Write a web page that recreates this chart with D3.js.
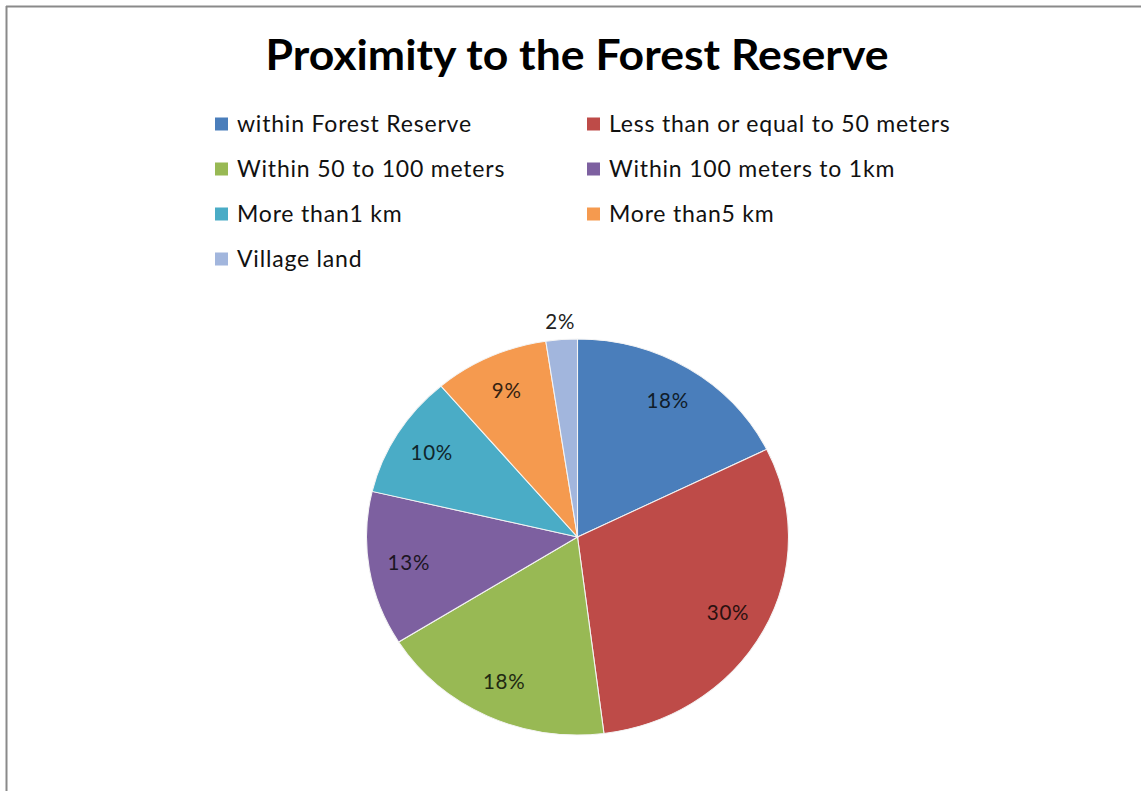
<!DOCTYPE html>
<html>
<head>
<meta charset="utf-8">
<script src="https://cdn.jsdelivr.net/npm/d3@7"></script>
<style>
  html, body { margin: 0; padding: 0; background: #fff; }
  svg { display: block; }
</style>
</head>
<body>
<script>
const categories = [
  "within Forest Reserve",
  "Less than or equal to 50 meters",
  "Within 50 to 100 meters",
  "Within 100 meters to 1km",
  "More than1 km",
  "More than5 km",
  "Village land"
];
const values = [17.7, 30.3, 18.1, 12.6, 10.1, 8.8, 2.4];
const valueLabels = ["18%", "30%", "18%", "13%", "10%", "9%", "2%"];
const colors = ["#4A7EBB", "#BE4B48", "#98B954", "#7D60A0", "#4AACC6", "#F59A4F", "#A2B6DD"];
const titleText = "Proximity to the Forest Reserve";

const W = 1141, H = 791;
const svg = d3.select("body").append("svg").attr("width", W).attr("height", H);

// frame (top and left edges)
svg.append("line").attr("x1", 6).attr("y1", 6.5).attr("x2", W).attr("y2", 6.5)
  .attr("stroke", "#8a8a8a").attr("stroke-width", 2);
svg.append("line").attr("x1", 6.5).attr("y1", 6).attr("x2", 6.5).attr("y2", H)
  .attr("stroke", "#8a8a8a").attr("stroke-width", 2);

// title
svg.append("text")
  .attr("x", 577).attr("y", 70)
  .attr("text-anchor", "middle")
  .attr("font-family", "Lato, 'Open Sans', sans-serif")
  .attr("font-weight", "bold")
  .attr("font-size", 42)
  .attr("fill", "#000")
  .attr("textLength", 623)
  .attr("lengthAdjust", "spacingAndGlyphs")
  .text(titleText);

// legend
const legendX = [215, 587];
const legendY0 = 124, legendDy = 45;
const legend = svg.append("g");
categories.forEach((c, i) => {
  const col = i % 2, row = Math.floor(i / 2);
  const x = legendX[col], y = legendY0 + row * legendDy;
  legend.append("rect").attr("x", x).attr("y", y - 6.5).attr("width", 13).attr("height", 13)
    .attr("fill", colors[i]);
  legend.append("text").attr("x", x + 22).attr("y", y).attr("dy", "0.35em")
    .attr("font-family", "Lato, 'Open Sans', sans-serif")
    .attr("font-size", 23)
    .attr("letter-spacing", 0.8)
    .attr("fill", "#111")
    .text(c);
});

// pie
const cx = 577.5, cy = 537, ry = 198, rx = 211;
const sx = rx / ry;
const pie = d3.pie().sort(null).value(d => d)(values);
const arc = d3.arc().innerRadius(0).outerRadius(ry);
const g = svg.append("g").attr("transform", `translate(${cx},${cy}) scale(${sx},1)`);
g.selectAll("path").data(pie).enter().append("path")
  .attr("d", arc)
  .attr("fill", (d, i) => colors[i])
  .attr("stroke", "#f4f4f4")
  .attr("stroke-width", 1);

// labels
const inArc = d3.arc().innerRadius(ry * 0.81).outerRadius(ry * 0.81);
const outArc = d3.arc().innerRadius(ry * 1.09).outerRadius(ry * 1.09);
pie.forEach((d, i) => {
  const outside = (d.endAngle - d.startAngle) < 0.2;
  const [px, py] = (outside ? outArc : inArc).centroid(d);
  const fill = outside ? "#222" : d3.interpolateRgb(colors[i], "#000")(0.78);
  svg.append("text")
    .attr("x", cx + px * sx).attr("y", cy + py)
    .attr("text-anchor", "middle").attr("dy", "0.35em")
    .attr("font-family", "Lato, 'Open Sans', sans-serif")
    .attr("font-size", 20.5)
    .attr("letter-spacing", 0.8)
    .attr("fill", fill)
    .text(valueLabels[i]);
});
</script>
</body>
</html>
